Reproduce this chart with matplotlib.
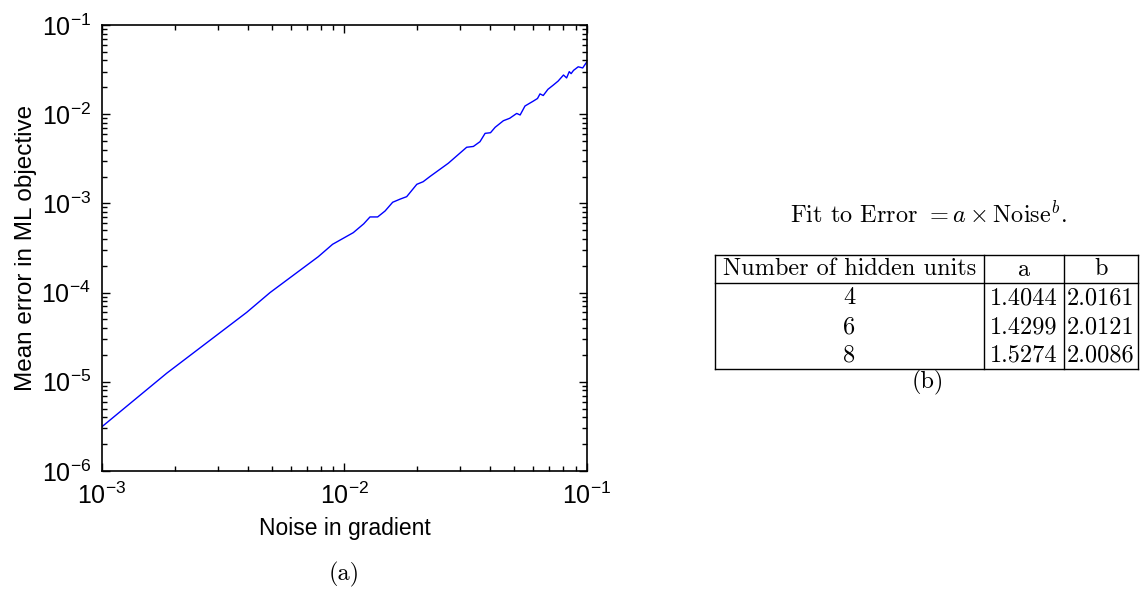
import numpy as np
import matplotlib.pyplot as plt
from matplotlib.ticker import LogLocator, NullFormatter

# Noise in gradient vs mean error
noise = [0.001, 0.00185, 0.00395, 0.00493, 0.0078, 0.00893, 0.01087, 0.0120,
         0.01274, 0.0137, 0.0147, 0.0158, 0.0170, 0.01805, 0.01987, 0.0211,
         0.0225, 0.0268, 0.0290, 0.0319, 0.0340, 0.0362, 0.0380, 0.0400,
         0.0418, 0.0452, 0.0480, 0.0513, 0.0530, 0.0555, 0.0600, 0.0625,
         0.0640, 0.0660, 0.0690, 0.0726, 0.0760, 0.0800, 0.0824, 0.0845,
         0.0860, 0.0880, 0.0920, 0.0960, 0.1000]
error = [3.14e-6, 1.25e-5, 6.0e-5, 0.0001, 0.000253, 0.000348, 0.00047, 0.00059,
         0.000705, 0.000705, 0.000822, 0.00103, 0.00112, 0.00119, 0.001637, 0.00175,
         0.0020, 0.00282, 0.0034, 0.00426, 0.00435, 0.00492, 0.0061, 0.0062,
         0.00713, 0.00845, 0.0090, 0.0102, 0.0098, 0.01236, 0.0140, 0.0150,
         0.0169, 0.0162, 0.0190, 0.0212, 0.0235, 0.0275, 0.0255, 0.0300,
         0.0285, 0.0310, 0.0340, 0.0330, 0.0388]

# Table of fits
fit_units = ['4', '6', '8']
fit_a = ['1.4044', '1.4299', '1.5274']
fit_b = ['2.0161', '2.0121', '2.0086']

plt.rcParams['mathtext.fontset'] = 'cm'
plt.rcParams['axes.formatter.use_mathtext'] = True

fig = plt.figure(figsize=(11.4, 5.95), dpi=100)
W, H = 1140, 595

ax = fig.add_axes([102 / W, 1 - 471 / H, 485 / W, 446 / H])
ax.loglog(noise, error, color='#0000ff', lw=1.0)
ax.set_xlim(1e-3, 1e-1)
ax.set_ylim(1e-6, 1e-1)
for a in (ax.xaxis, ax.yaxis):
    a.set_minor_locator(LogLocator(base=10, subs=np.arange(2, 10), numticks=20))
    a.set_minor_formatter(NullFormatter())
ax.tick_params(which='both', direction='in', top=True, right=True,
               labelsize=18, pad=8, width=1.0)
ax.tick_params(which='major', length=6)
ax.tick_params(which='minor', length=3.5)
for t in ax.get_xticklabels() + ax.get_yticklabels():
    t.set_family('Liberation Sans')
ax.set_xlabel('Noise in gradient', fontsize=16.5, family='Liberation Sans', labelpad=6)
ax.set_ylabel('Mean error in ML objective', fontsize=17.5, family='Liberation Sans', labelpad=3)
for s in ax.spines.values():
    s.set_linewidth(1.2)

serif = 'cmr10'
fs = 17.5
fig.text(344 / W, 1 - 574 / H, '(a)', ha='center', va='center', fontsize=fs, family=serif)

# Right panel: table
fig.text(928 / W, 1 - 214 / H, r'Fit to Error $= a \times \mathrm{Noise}^b$.',
         ha='center', va='center', fontsize=fs, family=serif)

tx0, tx1, tx2, tx3 = 715, 984, 1064, 1138
ty0, ty1, ty3 = 255, 283, 369
for (x0, y0, x1, y1) in [(tx0, ty0, tx3, ty0), (tx0, ty1, tx3, ty1), (tx0, ty3, tx3, ty3),
                         (tx0, ty0, tx0, ty3), (tx1, ty0, tx1, ty3), (tx2, ty0, tx2, ty3),
                         (tx3, ty0, tx3, ty3)]:
    fig.add_artist(plt.Line2D([x0 / W, x1 / W], [1 - y0 / H, 1 - y1 / H],
                              transform=fig.transFigure, color='black', lw=1.0))

def cell(x, y, s):
    fig.text(x / W, 1 - y / H, s, ha='center', va='center', fontsize=fs, family=serif)

cell((tx0 + tx1) / 2, 269, 'Number of hidden units')
cell((tx1 + tx2) / 2, 270, 'a')
cell((tx2 + tx3) / 2, 269, 'b')
rows_y = [298, 327, 355]
for i in range(3):
    cell((tx0 + tx1) / 2, rows_y[i], fit_units[i])
    cell((tx1 + tx2) / 2, rows_y[i], fit_a[i])
    cell((tx2 + tx3) / 2, rows_y[i], fit_b[i])
cell(928, 382, '(b)')

fig.savefig('out.png', dpi=100)
